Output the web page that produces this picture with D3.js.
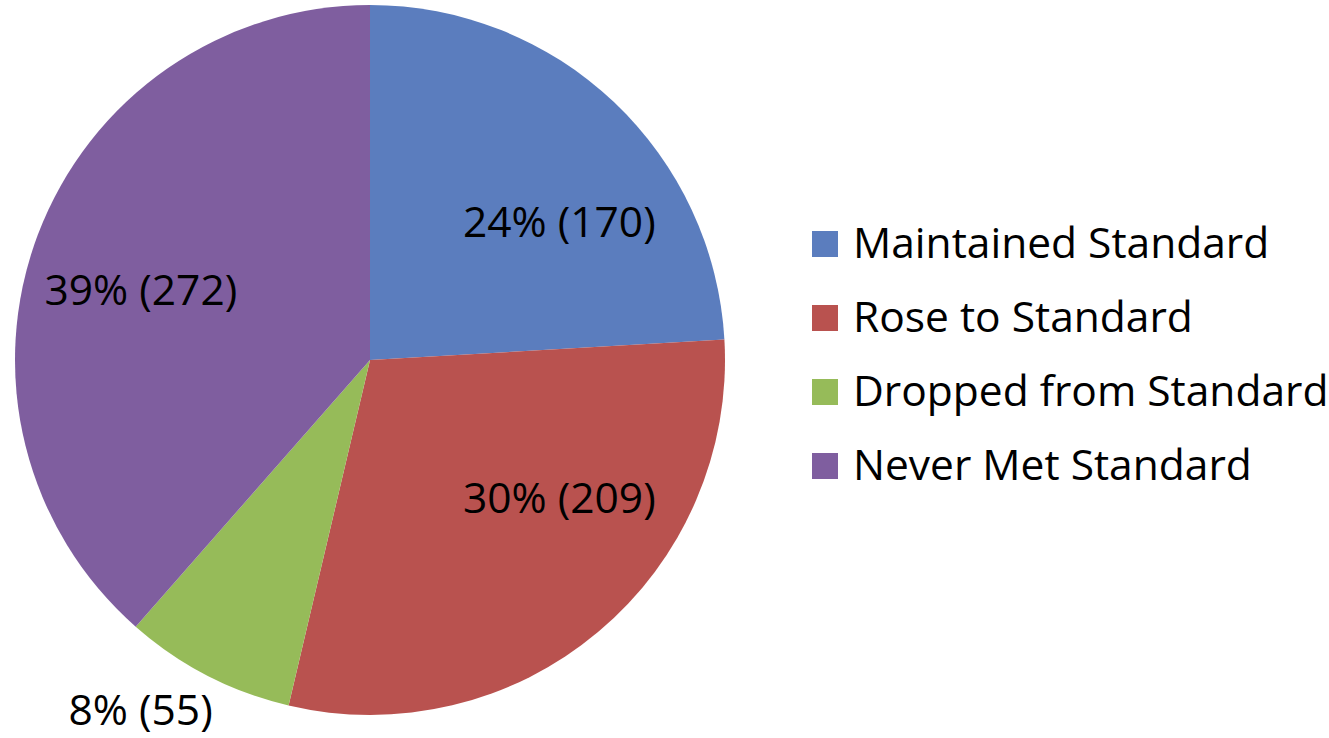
<!DOCTYPE html>
<html>
<head>
<meta charset="utf-8">
<script src="https://cdn.jsdelivr.net/npm/d3@7"></script>
<style>
  html, body { margin: 0; padding: 0; background: #fff; }
  svg { display: block; }
  text { font-family: "Open Sans", Lato, sans-serif; fill: #000; }
</style>
</head>
<body>
<svg id="chart" width="1329" height="738"></svg>
<script>
// ---- data ----
const categories = ["Maintained Standard", "Rose to Standard", "Dropped from Standard", "Never Met Standard"];
const counts = [170, 209, 55, 272];
const percentLabels = ["24%", "30%", "8%", "39%"];
const colors = ["#5B7DBE", "#B9524F", "#96BB59", "#7F5E9F"];

// ---- layout ----
const W = 1329, H = 738;
const cx = 370, cy = 360, radius = 355;
// label placement: [angle (deg clockwise from 12 o'clock), distance as fraction of radius]
const labelPlacement = [[53.9, 0.66], [126.1, 0.66], [213.2, 1.18], [287.0, 0.675]];
const fontSize = 42.5;

const svg = d3.select("#chart");
const g = svg.append("g").attr("transform", `translate(${cx},${cy})`);

const pie = d3.pie().sort(null).value(d => d)(counts);
const arc = d3.arc().innerRadius(0).outerRadius(radius);

g.selectAll("path.slice")
  .data(pie)
  .join("path")
  .attr("class", "slice")
  .attr("d", arc)
  .attr("fill", (d, i) => colors[i]);

g.selectAll("text.lbl")
  .data(pie)
  .join("text")
  .attr("class", "lbl")
  .attr("x", (d, i) => Math.sin(labelPlacement[i][0] * Math.PI / 180) * labelPlacement[i][1] * radius)
  .attr("y", (d, i) => -Math.cos(labelPlacement[i][0] * Math.PI / 180) * labelPlacement[i][1] * radius)
  .attr("dy", "0.35em")
  .attr("text-anchor", "middle")
  .attr("font-size", fontSize)
  .text((d, i) => `${percentLabels[i]} (${counts[i]})`);

// ---- legend ----
const legendX = 812, legendY0 = 244, legendStep = 74, box = 26;
const lg = svg.append("g");
const items = lg.selectAll("g.item")
  .data(categories)
  .join("g")
  .attr("class", "item")
  .attr("transform", (d, i) => `translate(${legendX},${legendY0 + i * legendStep})`);
items.append("rect")
  .attr("x", 0).attr("y", -box / 2)
  .attr("width", box).attr("height", box)
  .attr("fill", (d, i) => colors[i]);
items.append("text")
  .attr("x", 41)
  .attr("y", 14)
  .attr("font-size", fontSize)
  .text(d => d);
</script>
</body>
</html>
